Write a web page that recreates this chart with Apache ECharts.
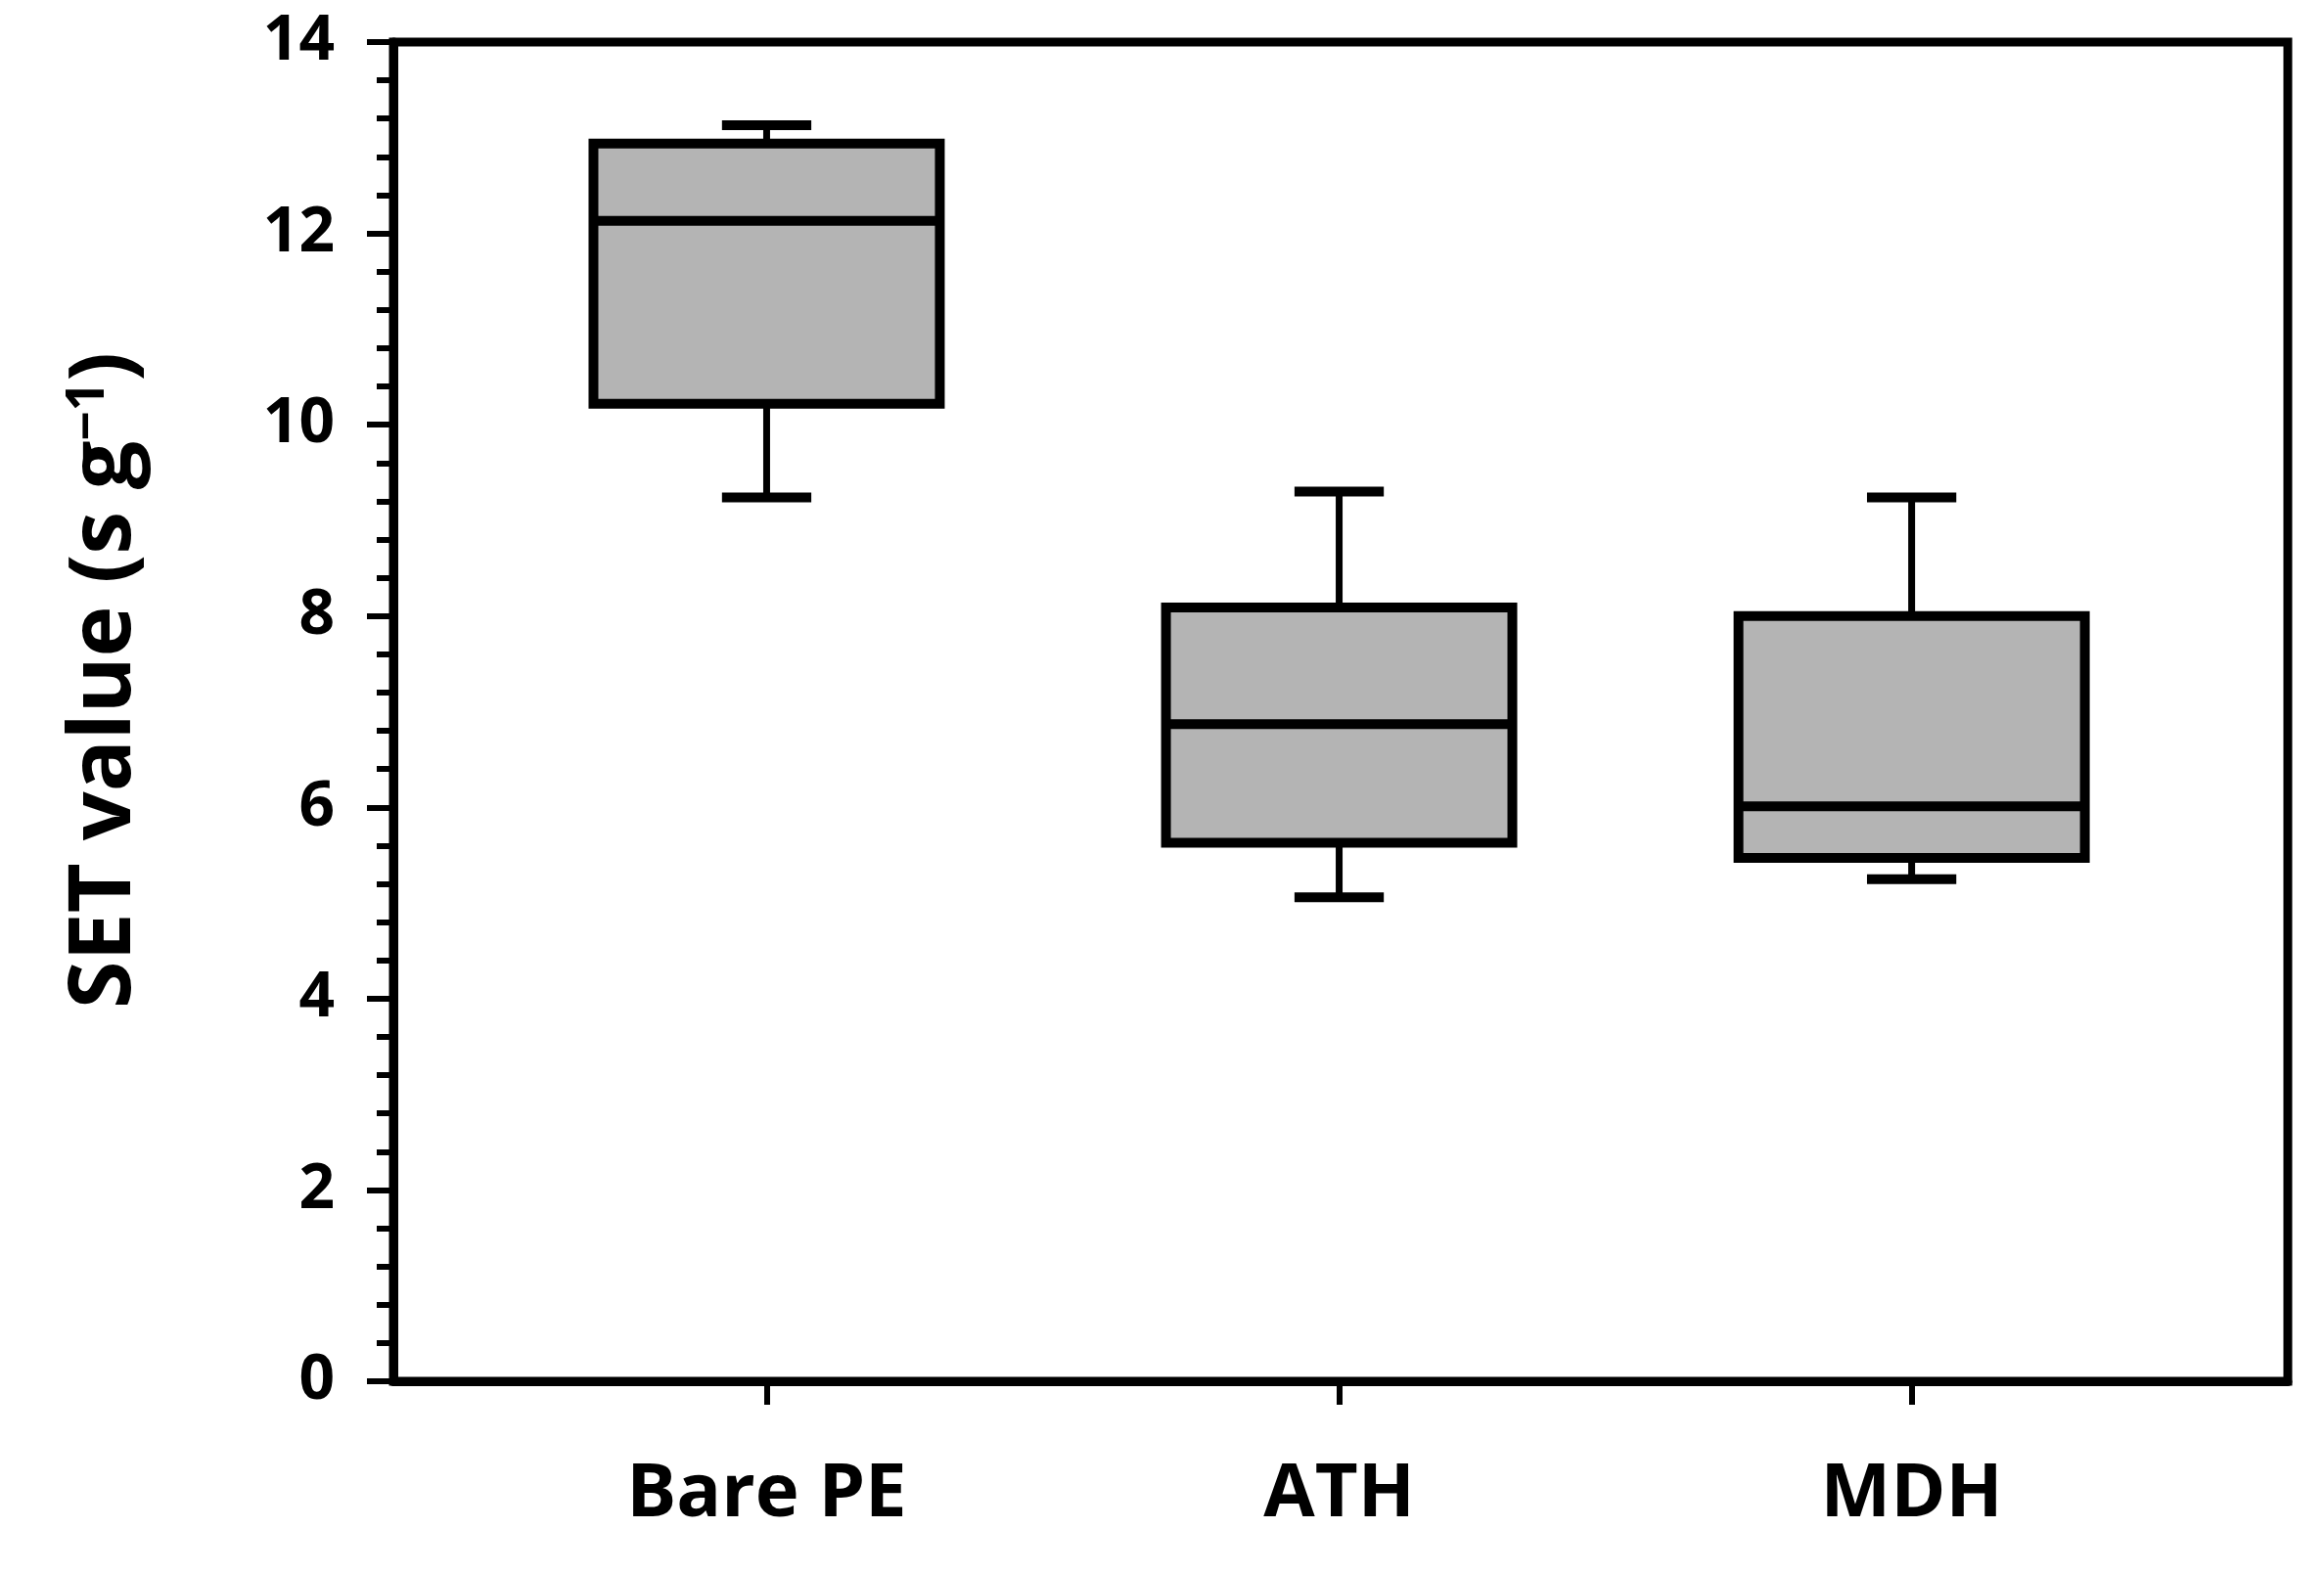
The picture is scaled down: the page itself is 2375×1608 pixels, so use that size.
<!DOCTYPE html>
<html>
<head>
<meta charset="utf-8">
<script src="https://cdn.jsdelivr.net/npm/echarts@6/dist/echarts.min.js"></script>
<style>
html,body{margin:0;padding:0;background:#fff;}
#chart{width:2375px;height:1608px;}
</style>
</head>
<body>
<div id="chart"></div>
<script>
const categories = ['Bare PE', 'ATH', 'MDH'];
const positions = [1, 2, 3];
const whiskerLow = [9.24, 5.06, 5.25];
const q1 = [10.22, 5.63, 5.47];
const median = [12.13, 6.87, 6.01];
const q3 = [12.94, 8.09, 8.00];
const whiskerHigh = [13.13, 9.30, 9.24];
const yTicks = { min: 0, max: 14, interval: 2 };

const FONT = 'Open Sans';
const boxWidth = 0.605;   // in x-axis units
const capWidth = 0.156;

const data = positions.map((p, i) => [p, whiskerLow[i], q1[i], median[i], q3[i], whiskerHigh[i]]);

const chart = echarts.init(document.getElementById('chart'));
chart.setOption({
  backgroundColor: '#fff',
  animation: false,
  grid: {
    left: 402, top: 43, right: 37, bottom: 196,
    show: true, borderColor: '#000', borderWidth: 9, backgroundColor: 'transparent'
  },
  xAxis: {
    type: 'value',
    min: 0.348, max: 3.657,
    splitLine: { show: false },
    axisLine: { show: true, lineStyle: { color: '#000', width: 9 } },
    axisTick: { show: true, customValues: positions, length: 24, inside: false, lineStyle: { color: '#000', width: 6 } },
    axisLabel: {
      customValues: positions,
      formatter: function (v) { return categories[Math.round(v) - 1] || ''; },
      fontFamily: FONT, fontWeight: 'bold', fontSize: 76, color: '#000', margin: 78
    }
  },
  yAxis: {
    type: 'value',
    min: yTicks.min, max: yTicks.max, interval: yTicks.interval,
    splitLine: { show: false },
    axisLine: { show: true, lineStyle: { color: '#000', width: 9 } },
    axisTick: { show: true, length: 27, lineStyle: { color: '#000', width: 6 } },
    minorTick: { show: true, splitNumber: 5, length: 17, lineStyle: { color: '#000', width: 6 } },
    minorSplitLine: { show: false },
    axisLabel: { fontFamily: FONT, fontWeight: 'bold', fontSize: 64, color: '#000', margin: 60 },
    name: '{a|SET value (s g}{b|\u22121}{a|)}',
    nameLocation: 'middle',
    nameGap: 250,
    nameTextStyle: {
      padding: [0, 0, 0, 64],
      rich: {
        a: { fontFamily: FONT, fontWeight: 'bold', fontSize: 88, lineHeight: 88, color: '#000' },
        b: { fontFamily: FONT, fontWeight: 'bold', fontSize: 53, lineHeight: 46, verticalAlign: 'top', color: '#000' }
      }
    }
  },
  series: [{
    type: 'custom',
    encode: { x: 0, y: [1, 2, 3, 4, 5] },
    data: data,
    renderItem: function (params, api) {
      const x = api.value(0);
      const pLow = api.coord([x, api.value(1)]);
      const pQ1 = api.coord([x, api.value(2)]);
      const pMed = api.coord([x, api.value(3)]);
      const pQ3 = api.coord([x, api.value(4)]);
      const pHigh = api.coord([x, api.value(5)]);
      const halfBox = api.size([boxWidth, 0])[0] / 2;
      const halfCap = api.size([capWidth, 0])[0] / 2;
      const cx = pMed[0];
      const lineStyle = (w) => ({ stroke: '#000', lineWidth: w, fill: null });
      return {
        type: 'group',
        children: [
          { type: 'line', shape: { x1: cx, y1: pQ3[1], x2: cx, y2: pHigh[1] }, style: lineStyle(7) },
          { type: 'line', shape: { x1: cx, y1: pQ1[1], x2: cx, y2: pLow[1] }, style: lineStyle(7) },
          { type: 'line', shape: { x1: cx - halfCap, y1: pHigh[1], x2: cx + halfCap, y2: pHigh[1] }, style: lineStyle(10) },
          { type: 'line', shape: { x1: cx - halfCap, y1: pLow[1], x2: cx + halfCap, y2: pLow[1] }, style: lineStyle(10) },
          { type: 'rect', shape: { x: cx - halfBox, y: pQ3[1], width: halfBox * 2, height: pQ1[1] - pQ3[1] },
            style: { fill: '#b4b4b4', stroke: '#000', lineWidth: 10 } },
          { type: 'line', shape: { x1: cx - halfBox, y1: pMed[1], x2: cx + halfBox, y2: pMed[1] }, style: lineStyle(10) }
        ]
      };
    }
  }]
});
</script>
</body>
</html>
